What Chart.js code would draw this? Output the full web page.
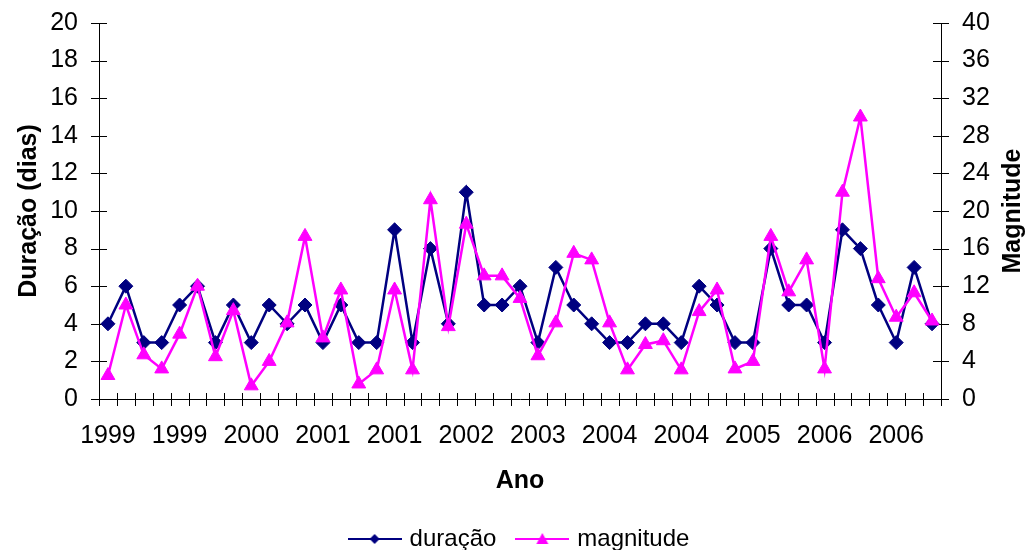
<!DOCTYPE html>
<html>
<head>
<meta charset="utf-8">
<script src="https://cdn.jsdelivr.net/npm/chart.js@4/dist/chart.umd.min.js"></script>
<style>
  html, body { margin: 0; padding: 0; background: #fff; }
  #wrap { width: 1031px; height: 550px; }
</style>
</head>
<body>
<div id="wrap"><canvas id="chart" width="1031" height="550"></canvas></div>
<script>
// one category per event, x labels shown every 4th category
const years = [
  "1999", "1999", "1999", "1999", "1999", "1999", "1999", "1999",
  "2000", "2000", "2000", "2000",
  "2001", "2001", "2001", "2001", "2001", "2001", "2001", "2001",
  "2002", "2002", "2002", "2002",
  "2003", "2003", "2003", "2003",
  "2004", "2004", "2004", "2004", "2004", "2004", "2004", "2004",
  "2005", "2005", "2005", "2005",
  "2006", "2006", "2006", "2006", "2006", "2006", "2006",
];
const labelEvery = 4;

const duracao = [
  4, 6, 3, 3, 5, 6, 3, 5, 3, 5, 4, 5, 3,
  5, 3, 3, 9, 3, 8, 4, 11, 5, 5, 6, 3, 7,
  5, 4, 3, 3, 4, 4, 3, 6, 5, 3, 3, 8, 5,
  5, 3, 9, 8, 5, 3, 7, 4,
];
const magnitude = [
  2.5, 10, 4.7, 3.2, 6.9, 12, 4.5, 9.4, 1.4, 4.0, 8.1, 17.3, 6.5,
  11.6, 1.6, 3.1, 11.6, 3.1, 21.2, 7.7, 18.6, 13.1, 13.1, 10.7, 4.6, 8.1,
  15.5, 14.8, 8.1, 3.1, 5.8, 6.2, 3.1, 9.3, 11.6, 3.2, 4.0, 17.3, 11.4,
  14.8, 3.2, 22, 30, 12.8, 8.7, 11.3, 8.3,
];

const NAVY = "#000080";
const PINK = "#FF00FF";
const FONT = "'Liberation Sans', Arial, sans-serif";
const rightTitle = "Magnitude";

// legend symbol: short line with the marker in the middle
function legendSymbol(color, shape) {
  const c = document.createElement("canvas");
  c.width = 54;
  c.height = 16;
  const g = c.getContext("2d");
  g.strokeStyle = color;
  g.fillStyle = color;
  g.lineWidth = 2;
  g.beginPath();
  g.moveTo(0, 8);
  g.lineTo(54, 8);
  g.stroke();
  g.beginPath();
  if (shape === "diamond") {
    g.moveTo(27, 3); g.lineTo(32, 8); g.lineTo(27, 13); g.lineTo(22, 8);
  } else {
    g.moveTo(27, 2); g.lineTo(33, 13); g.lineTo(21, 13);
  }
  g.closePath();
  g.fill();
  return c;
}
const symbols = [legendSymbol(NAVY, "diamond"), legendSymbol(PINK, "triangle")];

// Excel-style tick marks crossing the axis lines
const crossTicks = {
  id: "crossTicks",
  beforeDatasetsDraw(chart) {
    const { ctx, chartArea: a, scales } = chart;
    const x = scales.x;
    const step = x.getPixelForValue(1) - x.getPixelForValue(0);
    ctx.save();
    ctx.strokeStyle = "#000";
    ctx.lineWidth = 1;
    ctx.beginPath();
    for (let i = 0; i <= years.length; i++) {
      const px = Math.round(x.getPixelForValue(i) - step / 2) + 0.5;
      ctx.moveTo(px, a.bottom - 6);
      ctx.lineTo(px, a.bottom + 7);
    }
    ["y", "y1"].forEach((id) => {
      const s = scales[id];
      const ax = id === "y" ? a.left : a.right;
      s.ticks.forEach((t, i) => {
        const py = Math.round(s.getPixelForTick(i)) + 0.5;
        ctx.moveTo(ax - 8, py);
        ctx.lineTo(ax + 8, py);
      });
    });
    ctx.stroke();
    ctx.restore();
  },
  // right axis title reads bottom-to-top like the left one
  afterDraw(chart) {
    const { ctx, chartArea: a } = chart;
    ctx.save();
    ctx.translate(1013, (a.top + a.bottom) / 2);
    ctx.rotate(-Math.PI / 2);
    ctx.font = "bold 25px " + FONT;
    ctx.fillStyle = "#000";
    ctx.textAlign = "center";
    ctx.textBaseline = "middle";
    ctx.fillText(rightTitle, 0, 0);
    ctx.restore();
  },
};

const tickFont = { family: FONT, size: 25 };
const titleFont = { family: FONT, size: 25, weight: "bold" };
const border = { display: true, color: "#000", width: 1 };

// fixed axis sizes; drop the label half-height padding chart.js adds on top
function fixY(width) {
  return (s) => {
    s.width = width;
    s.paddingTop = 0;
    s.paddingBottom = 0;
  };
}

new Chart(document.getElementById("chart"), {
  type: "line",
  data: {
    labels: years,
    datasets: [
      {
        label: "duração",
        data: duracao,
        yAxisID: "y",
        order: 1,
        borderColor: NAVY,
        backgroundColor: NAVY,
        borderWidth: 2.5,
        pointStyle: "rectRot",
        pointRadius: 7,
        pointBorderWidth: 1,
        tension: 0,
        clip: false,
      },
      {
        label: "magnitude",
        data: magnitude,
        yAxisID: "y1",
        order: 0, // drawn over the navy series
        borderColor: PINK,
        backgroundColor: PINK,
        borderWidth: 2.5,
        pointStyle: "triangle",
        pointRadius: 8,
        pointBorderWidth: 1,
        tension: 0,
        clip: false,
      },
    ],
  },
  options: {
    responsive: false,
    animation: false,
    devicePixelRatio: 1,
    layout: { padding: { top: 23, left: 10, right: 0, bottom: -11 } },
    plugins: {
      tooltip: { enabled: false },
      legend: {
        position: "bottom",
        labels: {
          usePointStyle: true,
          pointStyleWidth: 46,
          padding: 23,
          color: "#000",
          font: { family: FONT, size: 24 },
          sort: (a, b) => a.datasetIndex - b.datasetIndex,
          generateLabels: (chart) =>
            Chart.defaults.plugins.legend.labels.generateLabels(chart).map((l) => ({
              ...l,
              pointStyle: symbols[l.datasetIndex],
            })),
        },
      },
    },
    scales: {
      x: {
        offset: true,
        grid: { display: false, drawTicks: false, offset: true },
        border,
        ticks: {
          color: "#000",
          font: tickFont,
          padding: 22,
          autoSkip: false,
          maxRotation: 0,
          minRotation: 0,
          callback: (v, i) => (i % labelEvery === 0 ? years[i] : ""),
        },
        title: { display: true, text: "Ano", color: "#000", font: titleFont, padding: { top: 0, bottom: 8 } },
        afterFit: (s) => { s.height = 105; },
      },
      y: {
        position: "left",
        min: 0,
        max: 20,
        grid: { display: false, drawTicks: false },
        border,
        ticks: { stepSize: 2, color: "#000", font: tickFont, padding: 21 },
        title: { display: true, text: "Duração (dias)", color: "#000", font: titleFont, padding: { top: 4, bottom: 0 } },
        afterFit: fixY(89),
      },
      y1: {
        position: "right",
        min: 0,
        max: 40,
        grid: { display: false, drawTicks: false },
        border,
        ticks: { stepSize: 4, color: "#000", font: tickFont, padding: 21 },
        title: { display: false, text: rightTitle },
        afterFit: fixY(90),
      },
    },
  },
  plugins: [crossTicks],
});
</script>
</body>
</html>
